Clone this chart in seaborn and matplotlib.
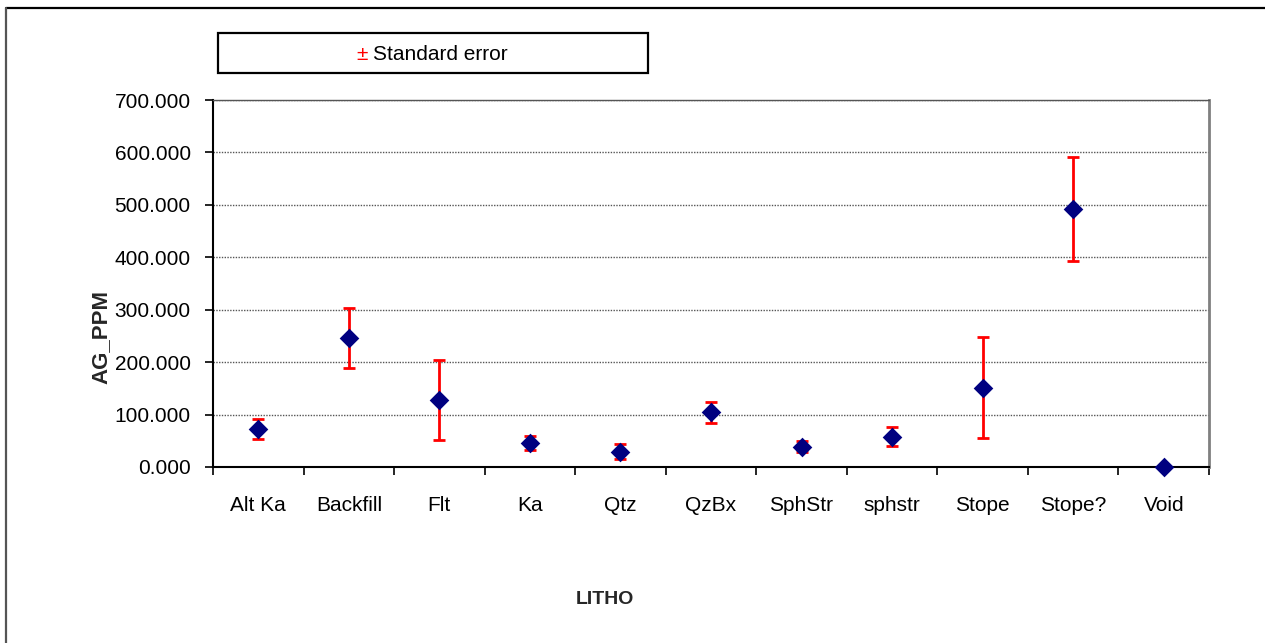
import matplotlib
matplotlib.use("Agg")
import matplotlib.pyplot as plt
from matplotlib.patches import Rectangle
from matplotlib.lines import Line2D
import numpy as np
import pandas as pd
import seaborn as sns

# Mean silver grade per lithology with its standard error
litho = ["Alt Ka", "Backfill", "Flt", "Ka", "Qtz", "QzBx", "SphStr",
         "sphstr", "Stope", "Stope?", "Void"]
ag_ppm = [72.0, 246.0, 128.0, 45.5, 29.0, 104.0, 39.0, 58.0, 151.5, 492.0, 0.0]
std_err = [19.0, 58.0, 77.0, 13.5, 14.0, 20.0, 11.0, 18.5, 96.5, 98.5, np.nan]

y_ticks = [0, 100, 200, 300, 400, 500, 600, 700]

df = pd.DataFrame({"LITHO": litho, "AG_PPM": ag_ppm, "SE": std_err})

sns.set_theme(style="white")
plt.rcParams["font.family"] = ["Liberation Sans", "DejaVu Sans"]

fig = plt.figure(figsize=(12.65, 6.43), dpi=100)
ax = fig.add_axes([213 / 1265, 1 - 467 / 643, (1209 - 213) / 1265, (467 - 100) / 643])

pos = np.arange(len(litho))

# error bars behind the markers
ax.errorbar(pos, df["AG_PPM"], yerr=df["SE"], fmt="none", ecolor="#ff0000",
            elinewidth=2.0, capsize=4.2, capthick=2.0, zorder=3)

sns.stripplot(data=df, x="LITHO", y="AG_PPM", order=litho, jitter=False,
              marker="D", size=10, color="#000080", linewidth=0, ax=ax,
              zorder=4, clip_on=False)

ax.set_xlim(-0.5, len(litho) - 0.5)
ax.set_ylim(0, 700)

ax.set_yticks(y_ticks)
ax.set_yticklabels([f"{v:.3f}" for v in y_ticks], fontsize=15)
ax.yaxis.grid(True, color="#555555", linestyle=(0, (1, 1)), linewidth=1.0)
ax.set_axisbelow(True)

ax.set_xticks(pos)
ax.set_xticklabels(litho, fontsize=15)
ax.set_xticks(np.arange(-0.5, len(litho)), minor=True)
ax.tick_params(axis="x", which="major", length=0, pad=21, colors="black")
ax.tick_params(axis="x", which="minor", length=6, width=1.2, direction="out",
               color="black", bottom=True)
ax.tick_params(axis="y", length=6, width=1.2, direction="out", color="black",
               left=True, pad=10, colors="black")

ax.set_xlabel("")
ax.set_ylabel("")

for side in ("left", "bottom"):
    ax.spines[side].set_color("black")
    ax.spines[side].set_linewidth(1.5)
ax.spines["top"].set_color("#555555")
ax.spines["top"].set_linestyle((0, (1, 1)))
ax.spines["top"].set_linewidth(1.0)
ax.spines["right"].set_color("#808080")
ax.spines["right"].set_linewidth(2.0)

# axis titles
fig.text(101 / 1265, 1 - 337 / 643, "AG_PPM", rotation=90, ha="center",
         va="center", fontsize=16, fontweight="bold")
fig.text(605 / 1265, 1 - 600 / 643, "LITHO", ha="center", va="center",
         fontsize=14, fontweight="bold")

# legend box
fig.add_artist(Rectangle((218 / 1265, 1 - 73 / 643), (648 - 218) / 1265,
                         (73 - 33) / 643, transform=fig.transFigure,
                         facecolor="white", edgecolor="black", linewidth=1.6))
fig.text(362 / 1265, 1 - 55 / 643, "±", color="#ff0000", ha="center",
         va="center", fontsize=15)
fig.text(373 / 1265, 1 - 55 / 643, "Standard error", color="black", ha="left",
         va="center", fontsize=15)

# chart area frame
fig.add_artist(Line2D([6 / 1265, 1.0], [1 - 8 / 643, 1 - 8 / 643],
                      transform=fig.transFigure, color="black", linewidth=1.6))
fig.add_artist(Line2D([6 / 1265, 6 / 1265], [0.0, 1 - 8 / 643],
                      transform=fig.transFigure, color="#555555", linewidth=1.6))

fig.savefig("out.png", dpi=100, facecolor="white")
